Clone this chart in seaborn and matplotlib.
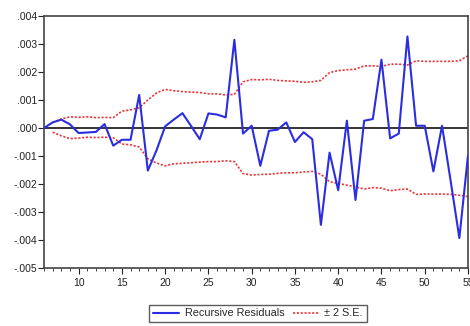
import numpy as np
import pandas as pd
import matplotlib
matplotlib.use("Agg")
import matplotlib.pyplot as plt
import seaborn as sns
from matplotlib.ticker import MultipleLocator, FuncFormatter
from matplotlib.lines import Line2D

# Data
t_resid = list(range(6, 56))
resid = [0.0, 0.00020, 0.00030, 0.00013, -0.00018, -0.00016, -0.00014, 0.00014,
         -0.00063, -0.00042, -0.00042, 0.00118, -0.00152, -0.00080, 0.00006,
         0.00030, 0.00053, 0.00007, -0.00040, 0.00052, 0.00048, 0.00038, 0.00315,
         -0.00020, 0.00008, -0.00135, -0.00010, -0.00006, 0.00020, -0.00050,
         -0.00015, -0.00040, -0.00346, -0.00088, -0.00222, 0.00026, -0.00257,
         0.00026, 0.00032, 0.00244, -0.00037, -0.00020, 0.00327, 0.00008, 0.00008,
         -0.00155, 0.00008, -0.00190, -0.00393, -0.00098]

t_se = list(range(7, 56))
upper = [0.00020, 0.00032, 0.00040, 0.00038, 0.00040, 0.00037, 0.00038, 0.00037,
         0.00060, 0.00065, 0.00072, 0.00100, 0.00125, 0.00138, 0.00133, 0.00130,
         0.00128, 0.00127, 0.00122, 0.00122, 0.00118, 0.00120, 0.00165, 0.00173,
         0.00172, 0.00174, 0.00170, 0.00168, 0.00167, 0.00163, 0.00165, 0.00170,
         0.00198, 0.00205, 0.00208, 0.00210, 0.00222, 0.00222, 0.00220, 0.00228,
         0.00228, 0.00225, 0.00240, 0.00238, 0.00238, 0.00238, 0.00238, 0.00240,
         0.00258]
lower = [-0.00015, -0.00028, -0.00038, -0.00036, -0.00033, -0.00034, -0.00033,
         -0.00035, -0.00057, -0.00060, -0.00068, -0.00110, -0.00125, -0.00135,
         -0.00128, -0.00126, -0.00124, -0.00122, -0.00120, -0.00120, -0.00117,
         -0.00120, -0.00163, -0.00168, -0.00166, -0.00165, -0.00162, -0.00160,
         -0.00160, -0.00157, -0.00155, -0.00165, -0.00192, -0.00198, -0.00204,
         -0.00210, -0.00218, -0.00213, -0.00215, -0.00224, -0.00220, -0.00218,
         -0.00237, -0.00236, -0.00236, -0.00236, -0.00237, -0.00240, -0.00245]

legend_labels = ["Recursive Residuals", "\u00b1 2 S.E."]

sns.set_style("white")
plt.rcParams['font.family'] = ['Liberation Sans', 'DejaVu Sans']

BLUE = "#2a2ee0"
RED = "#e8383a"
DOT = (0, (1.3, 1.0))

fig = plt.figure(figsize=(4.70, 3.26), dpi=100)
ax = fig.add_axes([44/470, 1-268/326, (468-44)/470, (268-16)/326])

ax.axhline(0, color="#333333", lw=1.4, zorder=1)
sns.lineplot(x=t_se, y=upper, ax=ax, color=RED, lw=1.2, linestyle=DOT, zorder=2)
sns.lineplot(x=t_se, y=lower, ax=ax, color=RED, lw=1.2, linestyle=DOT, zorder=2)
sns.lineplot(x=t_resid, y=resid, ax=ax, color=BLUE, lw=1.5, zorder=3)

ax.set_xlim(6, 55)
ax.set_ylim(-0.005, 0.004)
ax.xaxis.set_major_locator(MultipleLocator(5))
ax.xaxis.set_minor_locator(MultipleLocator(1))
ax.yaxis.set_major_locator(MultipleLocator(0.001))

def fmt(v, pos):
    s = f"{v:.3f}"
    if s.startswith("-0"):
        s = "-" + s[2:]
    elif s.startswith("0"):
        s = s[1:]
    if s == "-.000":
        s = ".000"
    return s

ax.yaxis.set_major_formatter(FuncFormatter(fmt))
ax.set_xticks([10, 15, 20, 25, 30, 35, 40, 45, 50, 55])
ax.tick_params(axis="both", which="major", direction="out", length=4, width=0.8,
               labelsize=7.5, colors="#222222", left=True, bottom=True, right=False, top=False)
ax.tick_params(axis="x", which="minor", direction="out", length=2, width=0.6, bottom=True)
ax.tick_params(axis="y", pad=1)
ax.tick_params(axis="x", pad=3)
for s in ax.spines.values():
    s.set_color("#444444")
    s.set_linewidth(1.2)
ax.set_xlabel("")
ax.set_ylabel("")

handles = [Line2D([], [], color=BLUE, lw=1.5),
           Line2D([], [], color=RED, lw=1.2, linestyle=DOT)]
leg = fig.legend(handles, legend_labels, loc="center", bbox_to_anchor=(258/470, 1-313.5/326),
                 ncol=2, frameon=True, fancybox=False, fontsize=7.8, handlelength=2.4,
                 columnspacing=0.8, handletextpad=0.5, borderpad=0.35, edgecolor="#333333")
leg.get_frame().set_linewidth(1.0)

fig.savefig("out.png", dpi=100, facecolor="white")
